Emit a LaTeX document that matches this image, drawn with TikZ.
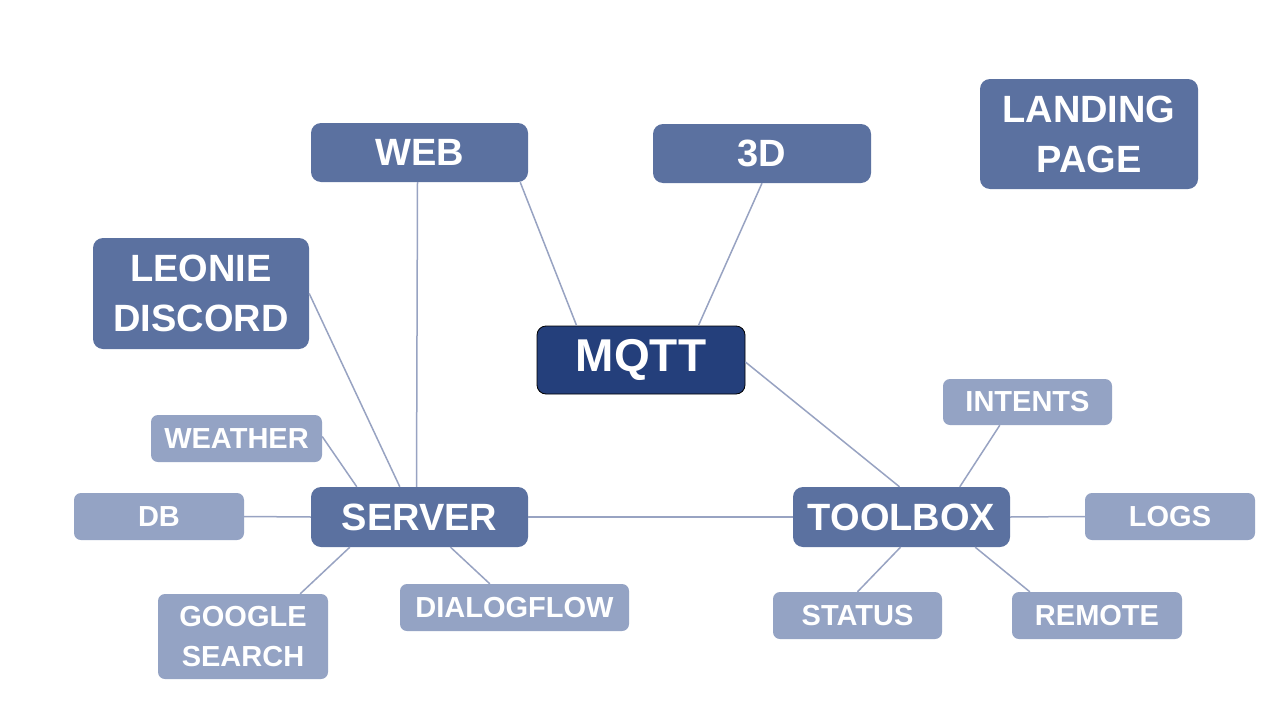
\documentclass[tikz,border=0pt]{standalone}
\usepackage{fontspec}
\setmainfont{Liberation Sans}
\usetikzlibrary{positioning}
\definecolor{midblue}{HTML}{5B71A0}
\definecolor{darkblue}{HTML}{243F7B}
\definecolor{lightblue}{HTML}{94A3C4}
\definecolor{linkc}{HTML}{98A3C2}
\begin{document}
\begin{tikzpicture}[x=1pt,y=-1pt,
  box/.style={rectangle, rounded corners=10pt, inner sep=0pt, align=center, text=white, font=\bfseries},
  midbox/.style={box, fill=midblue, font=\fontsize{38}{50}\selectfont\bfseries},
  smallbox/.style={box, fill=lightblue, rounded corners=7pt, font=\fontsize{29}{40}\selectfont\bfseries},
  mqttbox/.style={box, fill=darkblue, draw=black, line width=0.8pt, font=\fontsize{46}{50}\selectfont\bfseries},
  link/.style={draw=linkc, line width=1.5pt}]
\useasboundingbox[fill=white] (0,0) rectangle (1280,720);
% medium nodes
\node[midbox, minimum width=217pt, minimum height=59pt] (web) at (419.5,152.5) {WEB};
\node[midbox, minimum width=218pt, minimum height=59pt] (td) at (762,153.5) {3D};
\node[midbox, minimum width=218pt, minimum height=110pt] (landing) at (1089,134) {LANDING\\PAGE};
\node[midbox, minimum width=216pt, minimum height=111pt] (leonie) at (201,293.5) {LEONIE\\DISCORD};
\node[mqttbox, minimum width=208pt, minimum height=68pt, rounded corners=9pt] (mqtt) at (641,360) {MQTT};
\node[midbox, minimum width=217pt, minimum height=60pt] (server) at (419.5,517) {SERVER};
\node[midbox, minimum width=217pt, minimum height=60pt] (toolbox) at (901.5,517) {TOOLBOX};
% small nodes
\node[smallbox, minimum width=169pt, minimum height=46pt] (intents) at (1027.5,402) {INTENTS};
\node[smallbox, minimum width=171pt, minimum height=47pt] (weather) at (236.5,438.5) {WEATHER};
\node[smallbox, minimum width=170pt, minimum height=47pt] (db) at (159,516.5) {DB};
\node[smallbox, minimum width=170pt, minimum height=47pt] (logs) at (1170,516.5) {LOGS};
\node[smallbox, minimum width=170pt, minimum height=85pt] (google) at (243,636.5) {GOOGLE\\SEARCH};
\node[smallbox, minimum width=229pt, minimum height=47pt] (dialog) at (514.5,607.5) {DIALOGFLOW};
\node[smallbox, minimum width=169pt, minimum height=47pt] (status) at (857.5,615.5) {STATUS};
\node[smallbox, minimum width=170pt, minimum height=47pt] (remote) at (1097,615.5) {REMOTE};
% connectors
\draw[link] ([xshift=-2pt]web.south) -- ([xshift=-3pt]server.north);
\draw[link] ([xshift=-8pt]web.south east) -- ([xshift=40pt]mqtt.north west);
\draw[link] (td.south) -- ([xshift=-47pt]mqtt.north east);
\draw[link] (leonie.east) -- ([xshift=89pt]server.north west);
\draw[link] ([yshift=-2pt]mqtt.east) -- ([xshift=-2pt]toolbox.north);
\draw[link] ([yshift=2pt]weather.east) -- ([xshift=46pt]server.north west);
\draw[link] (db.east) -- (server.west);
\draw[link] (server.east) -- (toolbox.west);
\draw[link] ([xshift=39pt]server.south west) -- ([xshift=-28pt]google.north east);
\draw[link] ([xshift=31pt]server.south) -- ([xshift=90pt]dialog.north west);
\draw[link] ([xshift=57pt]intents.south west) -- ([xshift=167pt]toolbox.north west);
\draw[link] (toolbox.east) -- (logs.west);
\draw[link] ([xshift=-1pt]toolbox.south) -- (status.north);
\draw[link] ([xshift=-35pt]toolbox.south east) -- ([xshift=18pt]remote.north west);
\end{tikzpicture}
\end{document}
